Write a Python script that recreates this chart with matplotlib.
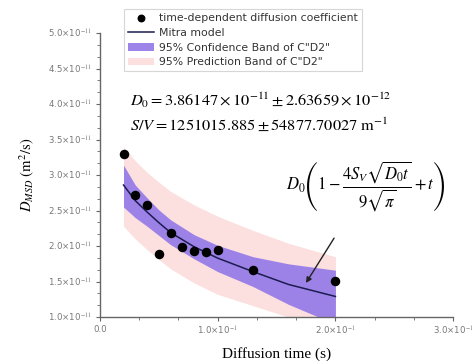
import matplotlib
matplotlib.use("Agg")
import matplotlib.pyplot as plt
from matplotlib.ticker import FuncFormatter, FixedLocator
import numpy as np

# Data (D in units of 1e-11 m^2/s)
t_data = [0.02, 0.03, 0.04, 0.05, 0.06, 0.07, 0.08, 0.09, 0.10, 0.13, 0.20]
d_data = [3.29, 2.72, 2.58, 1.89, 2.19, 1.98, 1.93, 1.92, 1.95, 1.66, 1.51]

t_fit = [0.02, 0.03, 0.04, 0.05, 0.06, 0.08, 0.10, 0.13, 0.16, 0.20]
d_fit = [2.86, 2.64, 2.48, 2.33, 2.19, 1.99, 1.83, 1.64, 1.46, 1.29]
conf_hi = [3.14, 2.86, 2.68, 2.51, 2.37, 2.16, 2.01, 1.85, 1.75, 1.66]
conf_lo = [2.55, 2.40, 2.28, 2.15, 2.02, 1.82, 1.64, 1.43, 1.18, 0.90]
pred_hi = [3.40, 3.20, 3.04, 2.90, 2.77, 2.58, 2.42, 2.22, 2.04, 1.85]
pred_lo = [2.28, 2.10, 1.95, 1.81, 1.68, 1.48, 1.32, 1.16, 1.00, 0.75]

x_ticks = [0.0, 0.1, 0.2, 0.3]
y_ticks = [1.0, 1.5, 2.0, 2.5, 3.0, 3.5, 4.0, 4.5, 5.0]

scale = 1e-11
legend_labels = ["time-dependent diffusion coefficient", "Mitra model",
                 "95% Confidence Band of C\"D2\"", "95% Prediction Band of C\"D2\""]

plt.rcParams['mathtext.fontset'] = 'stix'

fig = plt.figure(figsize=(4.76, 3.64), dpi=100)
ax = fig.add_axes([0.210, 0.129, 0.742, 0.780])

tf = np.array(t_fit)
pb = ax.fill_between(tf, np.array(pred_lo) * scale, np.array(pred_hi) * scale,
                     color='#fcdcdc', alpha=0.9, lw=0, zorder=1)
cb = ax.fill_between(tf, np.array(conf_lo) * scale, np.array(conf_hi) * scale,
                     color='#977de8', alpha=0.95, lw=0, zorder=2)
ln, = ax.plot(tf, np.array(d_fit) * scale, color='#1c1c50', lw=1.1, zorder=3)
sc = ax.scatter(t_data, np.array(d_data) * scale, s=34, color='black', zorder=4)

ax.set_xlim(0, 0.3)
ax.set_ylim(1.0e-11, 5.0e-11)

for s in ['top', 'right']:
    ax.spines[s].set_visible(False)
for s in ['left', 'bottom']:
    ax.spines[s].set_color('#666666')
    ax.spines[s].set_linewidth(1.0)

xt = np.array(x_ticks)
yt = np.array(y_ticks) * scale
ax.xaxis.set_major_locator(FixedLocator(xt))
ax.yaxis.set_major_locator(FixedLocator(yt))
dx = (xt[1] - xt[0]) / 3
dy = (yt[1] - yt[0]) / 3
ax.xaxis.set_minor_locator(FixedLocator([v + k * dx for v in xt[:-1] for k in (1, 2)]))
ax.yaxis.set_minor_locator(FixedLocator([v + k * dy for v in yt[:-1] for k in (1, 2)]))


def fmt(v, pos=None):
    if abs(v) < 1e-20:
        return "0.0"
    e = int(np.floor(np.log10(abs(v)) + 1e-9))
    m = v / 10 ** e
    return "%.1f\u00d710$^{%d}$" % (m, e)


ax.xaxis.set_major_formatter(FuncFormatter(fmt))
ax.yaxis.set_major_formatter(FuncFormatter(fmt))
ax.xaxis.offsetText.set_visible(False)
ax.yaxis.offsetText.set_visible(False)
ax.tick_params(which='major', direction='out', length=3, width=0.8, colors='#666666',
               labelsize=6.2, labelcolor='#777777', pad=3)
ax.tick_params(which='minor', direction='out', length=2, width=0.6, colors='#666666')

ax.set_xlabel("Diffusion time (s)", family='Liberation Serif', fontsize=11, labelpad=7)
ax.set_ylabel(r"$D_{MSD}\ (\mathrm{m}^2/\mathrm{s})$", fontsize=10.5, labelpad=9)

leg = fig.legend([sc, ln, cb, pb], legend_labels, loc='upper left',
                 bbox_to_anchor=(124 / 476, 1 - 9 / 364), fontsize=7.8, frameon=True,
                 fancybox=False, edgecolor='#cccccc', handlelength=2.4,
                 borderpad=0.35, labelspacing=0.45, handletextpad=0.5,
                 borderaxespad=0, markerscale=0.8)
leg.get_frame().set_linewidth(0.8)
for txt in leg.get_texts():
    txt.set_color('#333333')

ax.text(0.0255, 4.06e-11, r"$D_0 = 3.86147\times10^{-11} \pm 2.63659\times10^{-12}$",
        fontsize=11.8, ha='left', va='center')
ax.text(0.0255, 3.72e-11, r"$S/V = 1251015.885 \pm 54877.70027\ \mathrm{m}^{-1}$",
        fontsize=11.8, ha='left', va='center')
ax.annotate(r"$D_0\left(1-\dfrac{4S_V\sqrt{D_0t}}{9\sqrt{\pi}}+t\right)$",
            xy=(0.175, 1.48e-11), xytext=(0.226, 2.83e-11),
            fontsize=12, ha='center', va='center',
            arrowprops=dict(arrowstyle='-|>', color='#222222', lw=1.0,
                            shrinkA=18, shrinkB=0, mutation_scale=8))

fig.savefig("out.png", dpi=100)
